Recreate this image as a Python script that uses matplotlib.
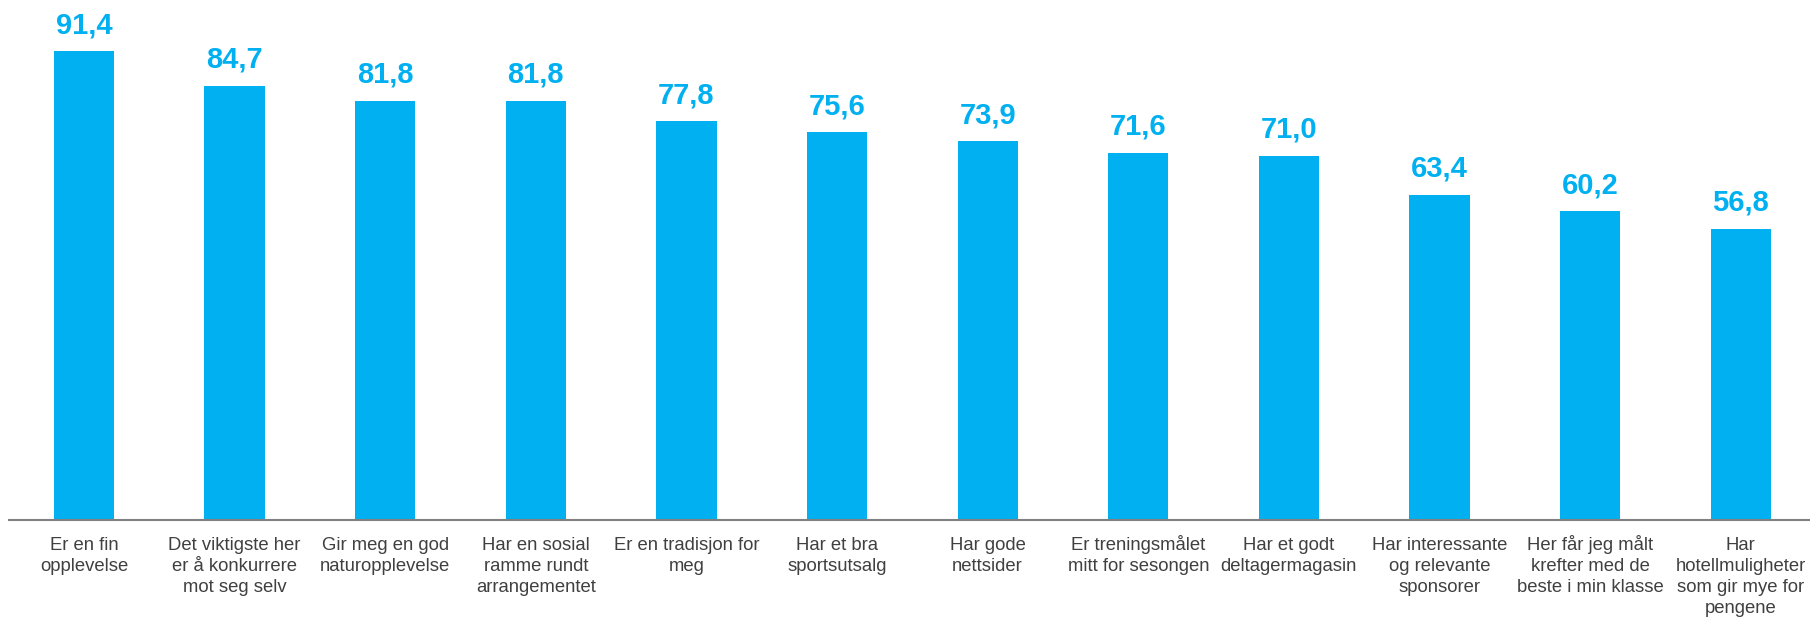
import matplotlib.pyplot as plt

plt.rcParams["font.family"] = ["Liberation Sans", "DejaVu Sans"]

categories = [
    "Er en fin\nopplevelse",
    "Det viktigste her\ner å konkurrere\nmot seg selv",
    "Gir meg en god\nnaturopplevelse",
    "Har en sosial\nramme rundt\narrangementet",
    "Er en tradisjon for\nmeg",
    "Har et bra\nsportsutsalg",
    "Har gode\nnettsider",
    "Er treningsmålet\nmitt for sesongen",
    "Har et godt\ndeltagermagasin",
    "Har interessante\nog relevante\nsponsorer",
    "Her får jeg målt\nkrefter med de\nbeste i min klasse",
    "Har\nhotellmuligheter\nsom gir mye for\npengene",
]
values = [91.4, 84.7, 81.8, 81.8, 77.8, 75.6, 73.9, 71.6, 71.0, 63.4, 60.2, 56.8]

bar_color = "#00B0F0"
text_color = "#404040"

W, H = 1810, 617
fig = plt.figure(figsize=(W / 100, H / 100), dpi=100)
# axes spans from just inside the left edge to slightly past the right edge
left_px, right_px, base_px = 8.7, 1816, 520
ax = fig.add_axes([left_px / W, (H - base_px) / H,
                   (right_px - left_px) / W, base_px / H])

x = range(len(values))
ax.bar(x, values, width=0.4, color=bar_color, zorder=2)

for xi, v in zip(x, values):
    ax.text(xi, v + 3.5, f"{v:.1f}".replace(".", ","), ha="center", va="baseline",
            fontsize=21, fontweight="bold", color=bar_color)

# category labels, one baseline-aligned line at a time so first lines stay level
first_baseline, line_step = 30, 21
for xi, label in zip(x, categories):
    for j, line in enumerate(label.split("\n")):
        ax.annotate(line, xy=(xi, 0), xycoords=("data", "axes fraction"),
                    xytext=(0, -(first_baseline + j * line_step)),
                    textcoords="offset pixels", ha="center", va="baseline",
                    fontsize=13.3, color=text_color, annotation_clip=False)

ax.set_xlim(-0.5, len(values) - 0.5)
ax.set_ylim(0, 101.4)
ax.set_xticks([])
ax.set_yticks([])

for side in ("left", "right", "top"):
    ax.spines[side].set_visible(False)
ax.spines["bottom"].set_color("#808080")
ax.spines["bottom"].set_linewidth(1.5)

fig.savefig("out.png", dpi=100)
